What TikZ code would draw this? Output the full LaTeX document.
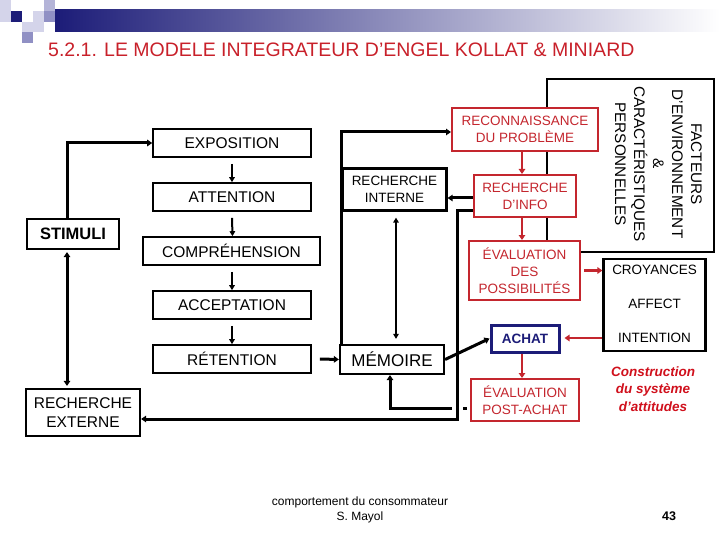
\documentclass[tikz,border=0pt]{standalone}
\usepackage{fontspec}
\setmainfont{Liberation Sans}
\usetikzlibrary{arrows.meta}
\definecolor{myred}{HTML}{C4262E}
\definecolor{titlered}{HTML}{C8202A}
\definecolor{navy}{HTML}{1C1C78}
\definecolor{crred}{HTML}{D0101C}
\definecolor{sqA}{HTML}{D4D4EA}
\definecolor{sqB}{HTML}{B4B4D8}
\definecolor{sqC}{HTML}{9090C4}
\begin{document}
\begin{tikzpicture}[x=1pt,y=-1pt,
  sz/.style 2 args={minimum width=#1pt, minimum height=#2pt},
  lbox/.style={draw, line width=1.6pt, inner sep=0pt, fill=white, font=\fontsize{15.5}{18}\selectfont},
  bbox/.style={draw, line width=2.2pt, inner sep=0pt, align=center, fill=white},
  rbox/.style={draw=myred, text=myred, line width=2pt, inner sep=0pt, align=center, fill=white, font=\fontsize{13.5}{17}\selectfont},
  plain/.style={inner sep=0pt, align=center},
  thk/.style={line width=3pt, -{Triangle[length=5pt,width=6.5pt]}},
  med/.style={line width=2pt, -{Triangle[length=5pt,width=5.5pt]}},
  redar/.style={draw=myred, line width=2.5pt, -{Triangle[length=5pt,width=6.5pt]}}
]
\useasboundingbox (0,0) rectangle (720,540);
% header bar and squares
\shade[left color=navy, right color=white] (55,10) rectangle (720,32);
\fill[sqA] (0,0) rectangle (11,11);
\fill[sqA] (0,11) rectangle (11,22);
\fill[navy] (11,11) rectangle (22,22);
\fill[sqA] (33,11) rectangle (44,22);
\fill[sqB] (44,0) rectangle (55,11);
\fill[sqC] (44,11) rectangle (55,22);
\fill[sqA] (22,22) rectangle (44,32);
\fill[sqC] (22,32) rectangle (33,43);
\node[plain, anchor=west, text=titlered, font=\fontsize{19.5}{22}\selectfont] (title) at (48,50) {5.2.1. LE MODELE INTEGRATEUR D’ENGEL KOLLAT \& MINIARD};

% big frame
\node[draw, line width=2.2pt, sz={167}{173}, inner sep=0pt] (frame) at (630.5,165.5) {};
\node[plain, rotate=-90, font=\fontsize{15.3}{19}\selectfont] (ftext) at (658.5,164) {FACTEURS\\D'ENVIRONNEMENT\\\&\\CARACTÉRISTIQUES\\PERSONNELLES};

% left column
\node[lbox, sz={158}{28}] (expo) at (232,143) {EXPOSITION};
\node[lbox, sz={158}{28}] (att) at (232,197) {ATTENTION};
\node[lbox, sz={177}{28}] (comp) at (231.5,251) {COMPRÉHENSION};
\node[lbox, sz={158}{28}] (acc) at (232,305) {ACCEPTATION};
\node[lbox, sz={158}{28}] (ret) at (232,359) {RÉTENTION};
\node[bbox, sz={92}{30}, font=\bfseries\fontsize{16.5}{19}\selectfont] (stim) at (73,234) {STIMULI};
\node[bbox, sz={114}{47}, font=\fontsize{15.5}{19}\selectfont] (rext) at (83,412.5) {RECHERCHE\\EXTERNE};

% middle
\node[bbox, sz={104}{42}, font=\fontsize{13.5}{17}\selectfont] (rint) at (394.5,189.5) {RECHERCHE\\INTERNE};
\node[bbox, sz={104}{29}, font=\fontsize{17}{19}\selectfont] (mem) at (392,359.5) {MÉMOIRE};

% red process
\node[rbox, sz={146}{43}] (recon) at (525,129.5) {RECONNAISSANCE\\DU PROBLÈME};
\node[rbox, sz={102}{42}] (rinfo) at (525,196) {RECHERCHE\\D'INFO};
\node[rbox, sz={111}{59}] (evalp) at (524.5,270.5) {ÉVALUATION\\DES\\POSSIBILITÉS};
\node[draw=navy, text=navy, line width=3pt, inner sep=0pt, fill=white, sz={68}{27}, font=\bfseries\fontsize{13.5}{16}\selectfont] (achat) at (525,338.5) {ACHAT};
\node[rbox, sz={108}{42}] (post) at (525,400) {ÉVALUATION\\POST-ACHAT};

% attitudes box
\node[bbox, sz={102}{92}] (attbox) at (654.5,305) {};
\node[plain, font=\fontsize{13.5}{16}\selectfont] (croy) at (654.5,270) {CROYANCES};
\node[plain, font=\fontsize{13.5}{16}\selectfont] (aff) at (654.5,304) {AFFECT};
\node[plain, font=\fontsize{13.5}{16}\selectfont] (intn) at (654.5,338) {INTENTION};
\node[plain, text=crred, font=\bfseries\itshape\fontsize{13.5}{17.5}\selectfont] (constr) at (653,389) {Construction\\du système\\d’attitudes};

% footer
\node[plain, font=\fontsize{12}{15}\selectfont] (foot) at (360,510) {comportement du consommateur\\S. Mayol};
\node[plain, font=\bfseries\fontsize{12.5}{15}\selectfont] (pg) at (669,516) {43};

% connectors: left side
\draw[thk] ([xshift=-6pt]stim.north) |- (expo.west);
\draw[line width=3pt, {Triangle[length=5pt,width=6.5pt]}-{Triangle[length=5pt,width=6.5pt]}, shorten <=2pt, shorten >=2pt]
  ([xshift=-6pt]stim.south) -- ([xshift=-6pt]stim.south |- rext.north);
\draw[med] ([yshift=-6pt]expo.south) -- (att.north);
\draw[med] ([yshift=-6pt]att.south) -- ([xshift=0.5pt]att.south |- comp.north);
\draw[med] ([xshift=0.5pt,yshift=-6pt]comp.south) -- (acc.north);
\draw[med] ([yshift=-6pt]acc.south) -- (ret.north);
\draw[thk] ([xshift=8pt]ret.east) -- (mem.west);

% memory connections
\draw[thk] ([xshift=2.5pt]mem.north west) |- ([yshift=-2.5pt]recon.west);
\draw[line width=2pt, {Triangle[length=5pt,width=5.5pt]}-{Triangle[length=5pt,width=5.5pt]}, shorten <=6pt, shorten >=5pt]
  ([xshift=1.5pt]rint.south) -- ([xshift=1.5pt]rint.south |- mem.north);
\draw[thk] ([yshift=-2pt]rinfo.west) -- ([yshift=-2pt]rinfo.west -| rint.east);
\draw[thk] (mem.east) -- (achat.west);
\draw[thk, shorten <=3pt] ([yshift=-8pt]post.west) -| ([xshift=-2pt]mem.south);
\coordinate (fcorner) at (457,419);
\fill[white] (451.5,404.5) rectangle (462.5,411.5);
\draw[thk] ([yshift=-15pt]rinfo.west) -| (fcorner) -- (fcorner -| rext.east);

% red connectors
\draw[redar] ([xshift=-3pt]recon.south) -- ([xshift=-3pt]recon.south |- rinfo.north);
\draw[redar] ([xshift=-3pt]rinfo.south) -- ([xshift=-3pt]rinfo.south |- evalp.north);
\draw[redar, shorten <=3pt] (evalp.east) -- (evalp.east -| attbox.west);
\draw[redar, shorten >=4pt] (attbox.west |- intn) -- (intn -| achat.east);
\draw[redar] ([xshift=-3pt]achat.south) -- ([xshift=-3pt]achat.south |- post.north);
\end{tikzpicture}
\end{document}
